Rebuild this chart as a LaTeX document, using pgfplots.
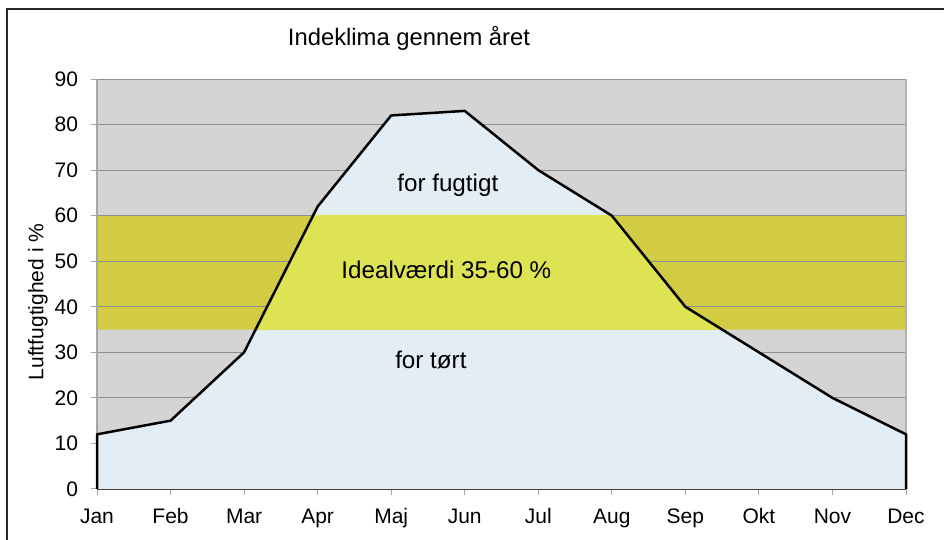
\documentclass[border=0pt]{standalone}
\usepackage{fontspec}
\setmainfont{Liberation Sans}
\usepackage{pgfplots}
\pgfplotsset{compat=1.18}
\definecolor{bggray}{HTML}{D4D4D4}
\definecolor{darkyel}{HTML}{D2CC44}
\definecolor{brightyel}{HTML}{DDE352}
\definecolor{lblue}{HTML}{E3EDF6}
\definecolor{gridgray}{HTML}{8E8E8E}
\begin{document}
\begin{tikzpicture}
\draw[line width=1pt, black!85] (3.25pt,-5pt) -- (3.25pt,265.25pt) -- (480pt,265.25pt);
\node[font=\fontsize{11.9}{13}\selectfont] at (204.5pt,251pt) {Indeklima gennem året};
\node[font=\fontsize{10.5}{12}\selectfont, rotate=90] at (19pt,119pt) {Luftfugtighed i \%};
\begin{axis}[
  set layers,
  clip=false,
  scale only axis,
  width=404.5pt, height=205pt,
  at={(48.5pt,25.5pt)}, anchor=south west,
  xmin=0, xmax=11, ymin=0, ymax=90,
  axis background/.style={fill=bggray},
  axis x line*=bottom, axis y line*=left,
  x axis line style={draw=black!75, line width=0.8pt},
  y axis line style={draw=gray!70, line width=0.6pt},
  xtick={0,...,11},
  xticklabels={Jan,Feb,Mar,Apr,Maj,Jun,Jul,Aug,Sep,Okt,Nov,Dec},
  ytick={0,10,...,90},
  tick align=outside,
  major tick length=3pt,
  tick style={draw=gray!70, line width=0.5pt},
  ymajorgrids,
  major grid style={draw=gridgray, line width=0.5pt},
  /pgf/number format/assume math mode=true,
  tick label style={font=\fontsize{10.5}{12}\selectfont},
  xticklabel style={yshift=-3pt, text height=1.45ex, text depth=0.3ex},
  yticklabel style={xshift=-3pt},
]
\addplot[fill=darkyel, draw=none, on layer=axis background] coordinates {(0,35) (11,35) (11,60) (0,60) (0,35)};
\draw[gray!60, line width=0.6pt] (rel axis cs:1,0) -- (rel axis cs:1,1);
\addplot[fill=lblue, draw=none] coordinates {
(0,12) (1,15) (2,30) (3,62) (4,82) (5,83) (6,70) (7,60) (8,40) (9,30) (10,20) (11,12)} \closedcycle;
\begin{scope}
\clip (axis cs:0,35) rectangle (axis cs:11,60);
\addplot[fill=brightyel, draw=none] coordinates {
(0,12) (1,15) (2,30) (3,62) (4,82) (5,83) (6,70) (7,60) (8,40) (9,30) (10,20) (11,12)} \closedcycle;
\end{scope}
\addplot[black, line width=1.25pt, line join=round] coordinates {
(0,0) (0,12) (1,15) (2,30) (3,62) (4,82) (5,83) (6,70) (7,60) (8,40) (9,30) (10,20) (11,12) (11,0)};
\node[font=\fontsize{12.1}{14}\selectfont] at (axis cs:4.77,66.7) {for fugtigt};
\node[font=\fontsize{12.1}{14}\selectfont] at (axis cs:4.75,48.1) {Idealværdi 35-60 \%};
\node[font=\fontsize{12.1}{14}\selectfont] at (axis cs:4.54,28.3) {for tørt};
\end{axis}
\pgfresetboundingbox
\useasboundingbox (0,0) rectangle (472pt,270pt);
\end{tikzpicture}
\end{document}
